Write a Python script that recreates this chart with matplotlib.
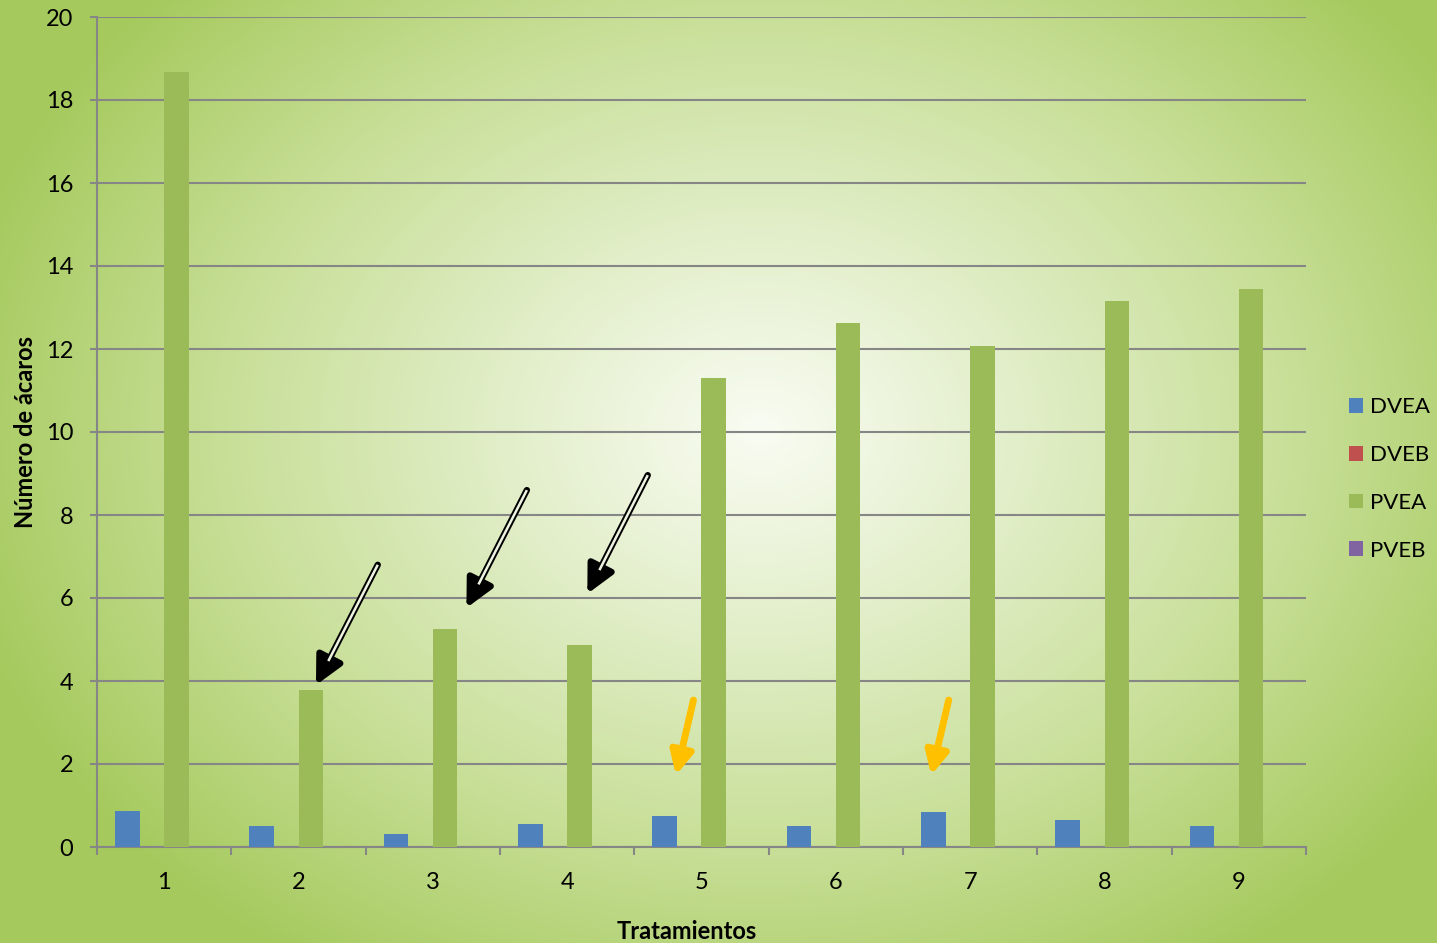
import numpy as np
import matplotlib.pyplot as plt
from matplotlib.colors import LinearSegmentedColormap

plt.rcParams['font.family'] = ['Lato', 'DejaVu Sans']

# datos del gráfico
tratamientos = ['1', '2', '3', '4', '5', '6', '7', '8', '9']
series = ['DVEA', 'DVEB', 'PVEA', 'PVEB']
dvea = [0.87, 0.51, 0.31, 0.55, 0.75, 0.51, 0.84, 0.65, 0.51]
dveb = [0, 0, 0, 0, 0, 0, 0, 0, 0]
pvea = [18.67, 3.78, 5.25, 4.87, 11.30, 12.63, 12.07, 13.16, 13.45]
pveb = [0, 0, 0, 0, 0, 0, 0, 0, 0]
colores = ['#4f81bd', '#c0504d', '#9bbb59', '#8064a2']

# flechas (cola -> punta), en coordenadas de datos
flechas_negras = [((1.59, 6.80), (1.13, 3.90)),
                  ((2.70, 8.60), (2.25, 5.76)),
                  ((3.60, 8.96), (3.15, 6.10))]
flechas_naranjas = [((3.94, 3.54), (3.81, 1.73)),
                    ((5.84, 3.54), (5.71, 1.73))]

fig = plt.figure(figsize=(14.37, 9.43), dpi=100)

# fondo con degradado radial
bg = fig.add_axes([0, 0, 1, 1], zorder=-10)
h, w = 943, 1437
yy, xx = np.mgrid[0:h, 0:w]
d = np.sqrt(((xx - 760) / 820.0) ** 2 + ((yy - 430) / 640.0) ** 2)
d = np.clip(d, 0, 1)
cmap = LinearSegmentedColormap.from_list(
    'fondo', [(0.0, '#f9fcf3'), (0.3, '#e3efcb'), (0.65, '#c8df98'), (1.0, '#a6ca5e')])
bg.imshow(d, cmap=cmap, aspect='auto', vmin=0, vmax=1)
bg.axis('off')

ax = fig.add_axes([97 / 1437, 1 - 847 / 943, 1209 / 1437, 830 / 943])
ax.set_facecolor('none')

x = np.arange(len(tratamientos))
bw = 0.1825
for i, (nombre, vals) in enumerate(zip(series, [dvea, dveb, pvea, pveb])):
    ax.bar(x + (i - 1.5) * bw, vals, width=bw, color=colores[i], label=nombre, zorder=3)

ax.set_xlim(-0.5, len(tratamientos) - 0.5)
ax.set_ylim(0, 20)
ax.set_yticks(np.arange(0, 21, 2))
ax.yaxis.grid(True, color='#868686', linewidth=1.5, zorder=1)
ax.set_axisbelow(True)

ax.set_xticks(np.arange(-0.5, len(tratamientos), 1))
ax.set_xticklabels([])
ax.set_xticks(x, minor=True)
ax.set_xticklabels(tratamientos, minor=True)
ax.tick_params(axis='x', which='major', length=6, width=1.5, color='#868686', direction='out')
ax.tick_params(axis='x', which='minor', length=0, pad=18, labelsize=17)
ax.tick_params(axis='y', length=5, width=1.5, color='#868686', pad=12, labelsize=17)

for s in ['top', 'right']:
    ax.spines[s].set_visible(False)
for s in ['left', 'bottom']:
    ax.spines[s].set_color('#868686')
    ax.spines[s].set_linewidth(1.5)

ax.set_xlabel('Tratamientos', fontsize=17, fontweight='bold')
ax.xaxis.set_label_coords(0.488, -0.088)
ax.set_ylabel('Número de ácaros', fontsize=17, fontweight='bold')
ax.yaxis.set_label_coords(-0.05, 0.5)

# flechas negras de doble línea
for (x0, y0), (x1, y1) in flechas_negras:
    ax.annotate('', xy=(x1, y1), xytext=(x0, y0),
                arrowprops=dict(arrowstyle='-|>', color='black', lw=4.6,
                                mutation_scale=42, shrinkA=0, shrinkB=0), zorder=5)
    f = 0.8
    ax.plot([x0, x0 + f * (x1 - x0)], [y0, y0 + f * (y1 - y0)],
            color='#eef4e2', lw=1.8, solid_capstyle='butt', zorder=6)

# flechas naranjas
for (x0, y0), (x1, y1) in flechas_naranjas:
    ax.annotate('', xy=(x1, y1), xytext=(x0, y0),
                arrowprops=dict(arrowstyle='-|>', color='#ffc000', lw=5,
                                mutation_scale=34, shrinkA=0, shrinkB=0), zorder=5)

fig.legend(loc='center left', bbox_to_anchor=(1340 / 1437, 1 - 479 / 943),
           frameon=False, fontsize=16, handlelength=0.65, handleheight=0.65,
           handletextpad=0.3, labelspacing=1.25, borderaxespad=0)

fig.savefig('out.png', dpi=100)
